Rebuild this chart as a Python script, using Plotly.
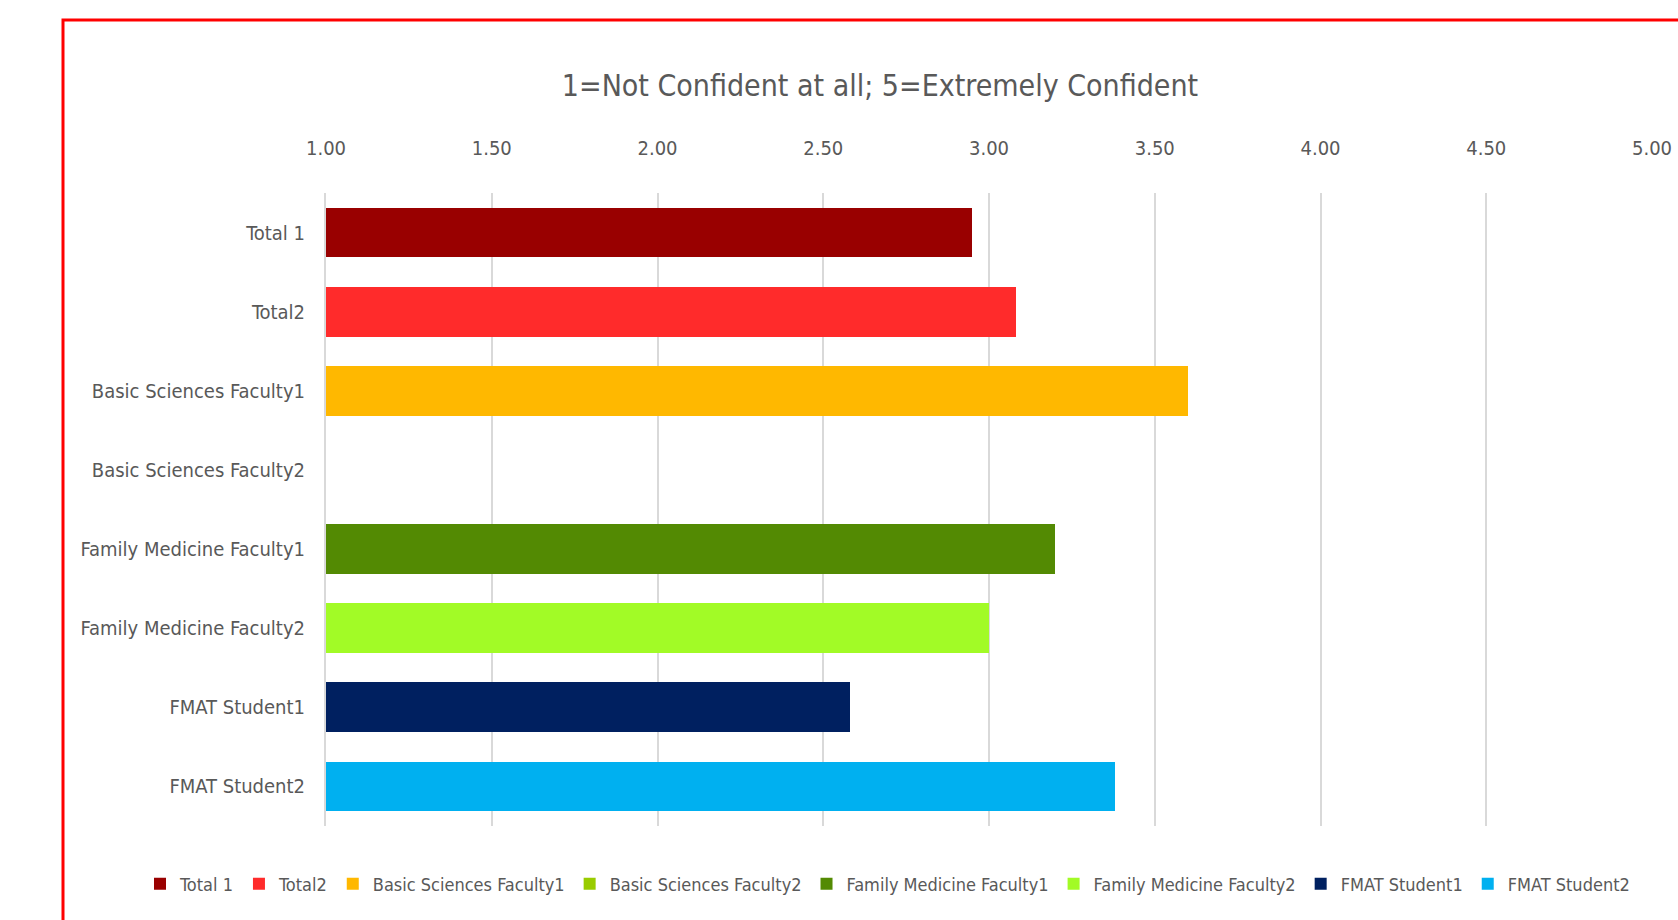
import plotly.graph_objects as go

categories = ["Total 1", "Total2", "Basic Sciences Faculty1", "Basic Sciences Faculty2",
              "Family Medicine Faculty1", "Family Medicine Faculty2", "FMAT Student1", "FMAT Student2"]
values = [2.95, 3.08, 3.60, None, 3.20, 3.00, 2.58, 3.38]
colors = ["#990000", "#FF2B2B", "#FFB800", "#99CC00", "#538A03", "#A2FB26", "#002060", "#00B0F0"]
tick_vals = [1.0, 1.5, 2.0, 2.5, 3.0, 3.5, 4.0, 4.5, 5.0]
tick_text = ["1.00", "1.50", "2.00", "2.50", "3.00", "3.50", "4.00", "4.50", "5.00"]
title_text = "1=Not Confident at all; 5=Extremely Confident"

FONT = "DejaVu Sans Condensed, Liberation Sans Narrow, sans-serif"
GREY = "#595959"

W, H = 1678, 920
ML, MR, MT, MB = 326, 26, 193, 94
pw, ph = W - ML - MR, H - MT - MB

def px_x(p):
    return (p - ML) / pw

def px_y(p):
    return (H - MB - p) / ph

fig = go.Figure()
for c, v, col in zip(categories, values, colors):
    fig.add_trace(go.Bar(
        x=[v], y=[c], name=c, orientation="h",
        marker=dict(color=col, line=dict(width=0)),
        showlegend=True,
    ))

fig.update_layout(
    width=W, height=H,
    margin=dict(l=ML, r=MR, t=MT, b=MB, autoexpand=False),
    paper_bgcolor="white", plot_bgcolor="white",
    barmode="stack", bargap=0.37,
    font=dict(family=FONT, color=GREY, size=20),
    title=dict(text=title_text, x=880 / W, xanchor="center", y=1 - 85 / H, yanchor="middle",
               font=dict(family=FONT, size=30, color=GREY)),
    xaxis=dict(side="top", range=[1, 5], tickvals=tick_vals, ticktext=tick_text,
               showgrid=True, gridcolor="#D9D9D9", gridwidth=2, zeroline=False, showline=False,
               ticks="", ticklabelstandoff=33, tickfont=dict(size=20, color=GREY, family=FONT)),
    yaxis=dict(categoryorder="array", categoryarray=categories, autorange="reversed",
               showgrid=False, zeroline=False, showline=True, linecolor="#D9D9D9", linewidth=2,
               ticks="", ticklabelstandoff=15,
               tickfont=dict(size=20, color=GREY, family=FONT)),
    legend=dict(orientation="h", xref="paper", yref="paper",
                x=px_x(140), xanchor="left", y=px_y(884), yanchor="middle",
                font=dict(size=18, color=GREY, family=FONT), traceorder="normal",
                itemwidth=30, tracegroupgap=0),
    shapes=[dict(type="rect", xref="paper", yref="paper",
                 x0=px_x(63), x1=px_x(1700), y0=px_y(940), y1=px_y(20),
                 line=dict(color="#FF0000", width=3), fillcolor="rgba(0,0,0,0)", layer="above")],
)

fig.write_html("out.html")
